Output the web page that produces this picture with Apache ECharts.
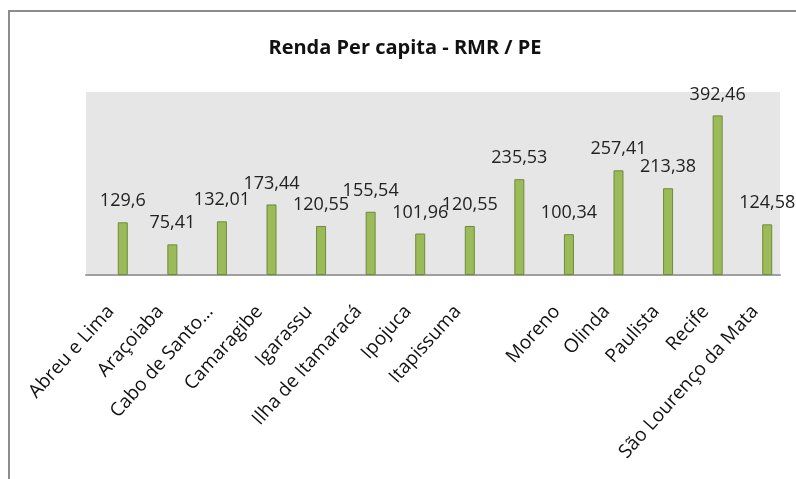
<!DOCTYPE html>
<html>
<head>
	<meta charset="utf-8">
	<script src="https://cdn.jsdelivr.net/npm/echarts@6/dist/echarts.min.js"></script>
	<title>Renda Per capita</title>
	<style>
		body { margin: 0; background: #fff; }
		#e { width: 796px; height: 479px; }
	</style>
</head>
<body>
	<div id="e"></div>
	<script>
		var cidades = ['Abreu e Lima', 'Araçoiaba', 'Cabo de Santo…', 'Camaragibe', 'Igarassu',
			'Ilha de Itamaracá', 'Ipojuca', 'Itapissuma', '', 'Moreno', 'Olinda', 'Paulista',
			'Recife', 'São Lourenço da Mata'];
		var renda = [129.6, 75.41, 132.01, 173.44, 120.55, 155.54, 101.96, 120.55, 235.53,
			100.34, 257.41, 213.38, 392.46, 124.58];

		var fonte = '"Open Sans", sans-serif';
		var myChart = echarts.init(document.getElementById('e'));
		var option = {
			animation: false,
			backgroundColor: '#fff',
			graphic: [
				{
					type: 'polyline',
					shape: { points: [[9, 479], [9, 11], [796, 11]] },
					style: { stroke: '#8c8c8c', lineWidth: 2, fill: null }
				}
			],
			title: {
				text: 'Renda Per capita - RMR / PE',
				left: 400,
				top: 33,
				textAlign: 'center',
				textStyle: { fontFamily: fonte, fontSize: 20, fontWeight: 'bold', color: '#111' }
			},
			grid: [
				// fundo cinza da área de plotagem
				{ left: 86, right: 16, top: 92, bottom: 204,
				  show: true, backgroundColor: '#e6e6e6', borderWidth: 0 },
				// barras (deslocadas como no original)
				{ left: 98, right: 4, top: 92, bottom: 204 }
			],
			xAxis: [
				{
					type: 'category', gridIndex: 0, data: [''],
					axisLine: { lineStyle: { color: '#a0a0a0', width: 2 } },
					axisTick: { show: false }, axisLabel: { show: false }
				},
				{
					type: 'category', gridIndex: 1,
					data: cidades,
					axisLine: { show: false },
					axisTick: { show: false },
					axisLabel: {
						interval: 0, rotate: 48, margin: 20,
						padding: [0, 18, 0, 0],
						fontFamily: fonte, fontSize: 19, color: '#111'
					}
				}
			],
			yAxis: [
				{ type: 'value', gridIndex: 0, min: 0, max: 450, show: false },
				{ type: 'value', gridIndex: 1, min: 0, max: 450, show: false }
			],
			series: [{
				type: 'bar',
				xAxisIndex: 1, yAxisIndex: 1,
				data: renda,
				barWidth: 10,
				z: 3,
				itemStyle: { color: '#9bbb59', borderColor: '#71893f', borderWidth: 1 },
				label: {
					show: true, position: 'top', distance: 12,
					fontFamily: fonte, fontSize: 18, color: '#222',
					formatter: function (p) { return String(p.value).replace('.', ','); }
				}
			}]
		};
		myChart.setOption(option);
	</script>
</body>
</html>
